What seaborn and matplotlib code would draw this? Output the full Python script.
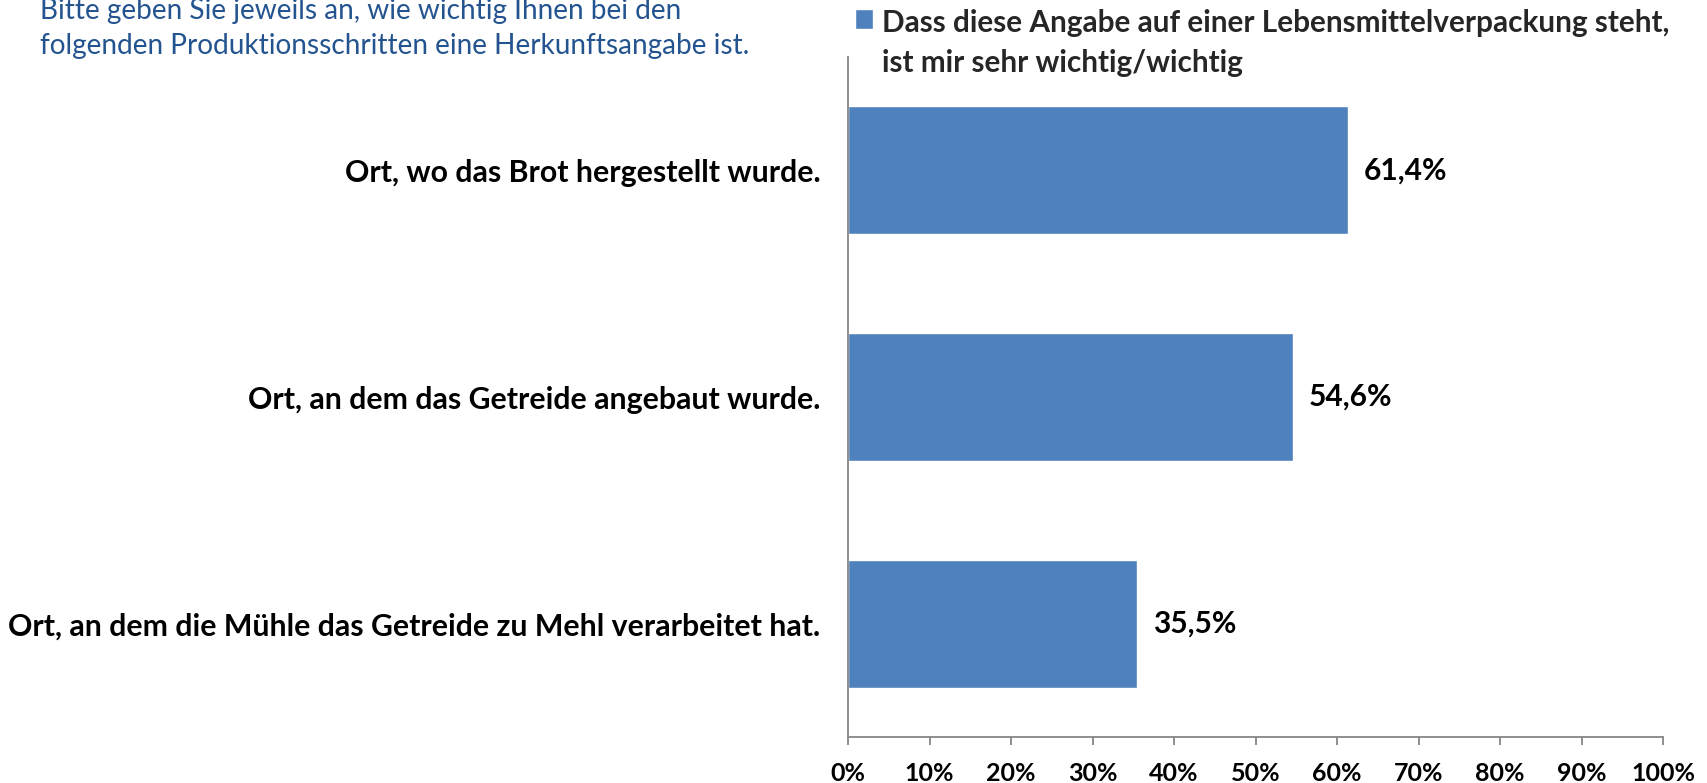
import matplotlib
matplotlib.use("Agg")
import matplotlib.pyplot as plt
import seaborn as sns
import pandas as pd
from matplotlib.ticker import FuncFormatter

# ---- data ----
categories = [
    "Ort, wo das Brot hergestellt wurde.",
    "Ort, an dem das Getreide angebaut wurde.",
    "Ort, an dem die Mühle das Getreide zu Mehl verarbeitet hat.",
]
values = [61.4, 54.6, 35.5]
series_name = "Dass diese Angabe auf einer Lebensmittelverpackung steht,\nist mir sehr wichtig/wichtig"
question_lines = [
    "Bitte geben Sie jeweils an, wie wichtig Ihnen bei den",
    "folgenden Produktionsschritten eine Herkunftsangabe ist.",
]
x_ticks = [0, 10, 20, 30, 40, 50, 60, 70, 80, 90, 100]

# ---- style ----
sns.set_theme(style="white")
plt.rcParams["font.family"] = ["Lato", "DejaVu Sans"]

BAR = "#4F81BD"
AXIS = "#868686"
BLUE_TXT = "#24548F"

fig = plt.figure(figsize=(17.08, 7.83), dpi=100)
ax = fig.add_axes([0.49649, 0.05875, 0.47717, 0.86845])

df = pd.DataFrame({"cat": categories, "val": values})
sns.barplot(data=df, x="val", y="cat", orient="h", color=BAR, saturation=1,
            width=0.565, label=series_name, ax=ax)

ax.set_xlim(0, 100)
ax.set_ylim(2.5, -0.5)
ax.set_xticks(x_ticks)
ax.xaxis.set_major_formatter(FuncFormatter(lambda v, p: f"{v:.0f}%"))
ax.set_xlabel("")
ax.set_ylabel("")

for s in ["top", "right"]:
    ax.spines[s].set_visible(False)
for s in ["left", "bottom"]:
    ax.spines[s].set_color(AXIS)
    ax.spines[s].set_linewidth(1.3)

ax.tick_params(axis="x", direction="out", length=6, width=1.3, color=AXIS,
               pad=12, labelsize=18, labelcolor="black", bottom=True)
for t in ax.get_xticklabels():
    t.set_fontweight("bold")
ax.tick_params(axis="y", length=0, pad=20, labelsize=21.8, labelcolor="black")
for t in ax.get_yticklabels():
    t.set_fontweight("bold")

labels = [f"{v:.1f}%".replace(".", ",") for v in values]
ax.bar_label(ax.containers[0], labels=labels, padding=11,
             fontsize=21.5, fontweight="bold", color="black")

# legend
leg = ax.legend(loc="upper left", bbox_to_anchor=(0.5006, 0.988),
                bbox_transform=fig.transFigure, frameon=False, borderpad=0,
                borderaxespad=0,
                handlelength=0.62, handleheight=0.62, handletextpad=0.3,
                prop={"weight": "bold", "size": 21.4})
for t in leg.get_texts():
    t.set_linespacing(1.5)
for col in leg._legend_handle_box.get_children():
    for row in col.get_children():
        row.align = "top"

# question text
fig.text(0.0236, 0.9757, question_lines[0], color=BLUE_TXT, fontsize=20.2,
         ha="left", va="baseline")
fig.text(0.0236, 0.9316, question_lines[1], color=BLUE_TXT, fontsize=20.2,
         ha="left", va="baseline")

fig.savefig("out.png", dpi=100)
